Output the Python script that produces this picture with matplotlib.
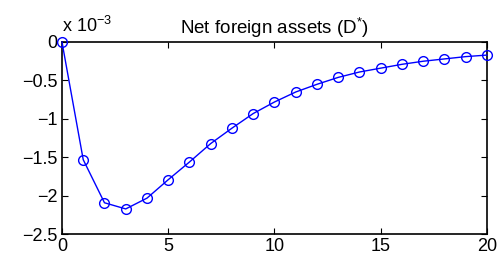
import matplotlib
matplotlib.use("Agg")
import matplotlib.pyplot as plt
from matplotlib.ticker import FuncFormatter

plt.rcParams['font.family'] = ['Liberation Sans', 'DejaVu Sans']
plt.rcParams['mathtext.fontset'] = 'custom'
plt.rcParams['mathtext.rm'] = 'Liberation Sans'
plt.rcParams['mathtext.it'] = 'Liberation Sans'

periods = list(range(21))
# Net foreign assets, in units of 1e-3
net_foreign_assets = [0.0, -1.53, -2.09, -2.17, -2.03, -1.79, -1.56, -1.32, -1.12,
                      -0.93, -0.78, -0.65, -0.55, -0.46, -0.39, -0.34, -0.29,
                      -0.25, -0.22, -0.19, -0.17]
x_ticks = [0, 5, 10, 15, 20]
y_ticks = [0, -0.5, -1, -1.5, -2, -2.5]

fig = plt.figure(figsize=(4.99, 2.62), dpi=100)
ax = fig.add_axes([0.1242, 0.1057, 0.8517, 0.734])
ax.plot(periods, net_foreign_assets, color='#0000ff', lw=1.0, marker='o',
        markersize=7, markerfacecolor='none', markeredgecolor='#0000ff', markeredgewidth=1.0,
        clip_on=False, zorder=3)
ax.set_xlim(0, 20)
ax.set_ylim(-2.5, 0)
ax.set_xticks(x_ticks)
ax.set_yticks(y_ticks)
fmt = FuncFormatter(lambda v, p: ('%g' % v).replace('-', '\u2212'))
ax.xaxis.set_major_formatter(fmt)
ax.yaxis.set_major_formatter(fmt)
ax.tick_params(direction='in', length=4, width=0.8, top=True, right=True,
               labelsize=13, colors='black', pad=3)
for s in ax.spines.values():
    s.set_linewidth(1.2)
ax.set_title('Net foreign assets (D$^{*}$)', fontsize=13.5, pad=6)
ax.text(0.0, 1.03, 'x 10$^{\u22123}$', transform=ax.transAxes, ha='left', va='bottom',
        fontsize=13)
fig.savefig('out.png', dpi=100)
